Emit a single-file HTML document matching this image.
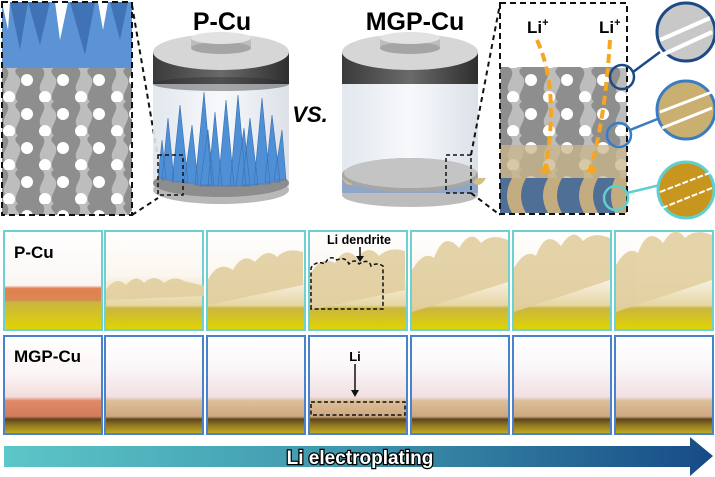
<!DOCTYPE html>
<html><head><meta charset="utf-8"><style>
html,body{margin:0;padding:0;background:#fff;}
svg{display:block;font-family:"Liberation Sans",sans-serif;}
</style></head><body>
<svg width="715" height="477" viewBox="0 0 715 477" xmlns="http://www.w3.org/2000/svg">
<defs>
<linearGradient id="bar" x1="0" x2="1"><stop offset="0" stop-color="#5cc6c8"/><stop offset="0.5" stop-color="#3d95ac"/><stop offset="1" stop-color="#174a86"/></linearGradient>
<linearGradient id="cylBody" x1="0" x2="1"><stop offset="0" stop-color="#dfe5ec"/><stop offset="0.5" stop-color="#f6f8fb"/><stop offset="1" stop-color="#d8dee6"/></linearGradient>
<linearGradient id="band" x1="0" x2="1"><stop offset="0" stop-color="#3a3a3a"/><stop offset="0.5" stop-color="#6a6a6a"/><stop offset="1" stop-color="#2e2e2e"/></linearGradient>
<linearGradient id="r1" x1="0" y1="0" x2="0" y2="1"><stop offset="0" stop-color="#fff"/><stop offset="0.45" stop-color="#fbf6ee"/><stop offset="0.75" stop-color="#e6d6a4"/><stop offset="0.78" stop-color="#c9b640"/><stop offset="1" stop-color="#e1d400"/></linearGradient>
<linearGradient id="r1a" x1="0" y1="0" x2="0" y2="1"><stop offset="0" stop-color="#fff"/><stop offset="0.55" stop-color="#fbf6f4"/><stop offset="0.58" stop-color="#e08050"/><stop offset="0.7" stop-color="#d98a50"/><stop offset="0.72" stop-color="#c9b640"/><stop offset="1" stop-color="#e1d400"/></linearGradient>
<linearGradient id="r2" x1="0" y1="0" x2="0" y2="1"><stop offset="0" stop-color="#fff"/><stop offset="0.3" stop-color="#fbf8fa"/><stop offset="0.62" stop-color="#f1dfe3"/><stop offset="0.66" stop-color="#dcc09a"/><stop offset="0.82" stop-color="#cfa780"/><stop offset="0.85" stop-color="#5a4620"/><stop offset="0.9" stop-color="#8a7020"/><stop offset="1" stop-color="#c6b020"/></linearGradient>
<linearGradient id="r2a" x1="0" y1="0" x2="0" y2="1"><stop offset="0" stop-color="#fff"/><stop offset="0.4" stop-color="#fbf4f4"/><stop offset="0.62" stop-color="#f3dcdc"/><stop offset="0.66" stop-color="#e28a66"/><stop offset="0.82" stop-color="#d27a5a"/><stop offset="0.85" stop-color="#5a4620"/><stop offset="0.9" stop-color="#8a7020"/><stop offset="1" stop-color="#c6b020"/></linearGradient>
<pattern id="lat" width="36" height="34" patternUnits="userSpaceOnUse"><rect width="36" height="34" fill="#8e8e8e"/><path d="M6 0 C14 8 -2 17 6 25 C14 34 6 34 6 34 L18 34 C10 26 26 17 18 8 C12 2 18 0 18 0Z" fill="#bdbdbd"/><circle cx="27" cy="12" r="6" fill="#fff"/><circle cx="9" cy="29" r="6" fill="#fff"/></pattern>
</defs>

<!-- left inset -->
<rect x="2" y="2" width="130" height="213" fill="url(#lat)"/>
<rect x="2" y="2" width="130" height="66" fill="#5b93d4"/>
<path d="M10 2 L20 50 L28 2 L40 45 L50 2 Z M70 2 L85 55 L95 2Z M110 2 L120 40 L128 2Z" fill="#3f73b5"/>
<path d="M2 2 L10 2 L8 30Z M55 2 L68 2 L60 40Z M98 2 L108 2 L103 30Z" fill="#fff"/>
<rect x="2" y="2" width="130" height="213" fill="none" stroke="#111" stroke-width="2" stroke-dasharray="6,4"/>
<line x1="132" y1="215" x2="158" y2="198" stroke="#111" stroke-width="2" stroke-dasharray="5,4"/>
<line x1="132" y1="5" x2="158" y2="158" stroke="#111" stroke-width="2" stroke-dasharray="5,4"/>

<!-- P-Cu cylinder -->
<rect x="153" y="55" width="136" height="135" fill="url(#cylBody)" opacity="0.9"/>
<ellipse cx="221" cy="190" rx="68" ry="14" fill="#b8b8b8"/>
<ellipse cx="221" cy="183" rx="68" ry="14" fill="#8d8d8d"/>
<g fill="#4f8fd6" stroke="#3a6fb0" stroke-width="0.6">
<path d="M162 180 L168 118 L174 180Z M172 182 L180 105 L188 182Z M184 183 L192 125 L198 183Z M195 185 L204 92 L212 185Z M208 186 L215 112 L222 186Z M218 186 L226 100 L234 186Z M230 186 L238 95 L246 186Z M242 185 L250 118 L258 185Z M254 184 L262 98 L270 184Z M265 182 L272 115 L280 182Z M158 178 L162 140 L166 178Z M200 186 L208 130 L214 186Z M236 186 L244 128 L250 186Z M274 180 L282 130 L286 180Z"/>
</g>
<rect x="153" y="52" width="136" height="32" fill="url(#band)"/>
<ellipse cx="221" cy="84" rx="68" ry="7" fill="#2b2b2b" opacity="0.4"/>
<ellipse cx="221" cy="52" rx="68" ry="18" fill="#d6d6d6"/>
<rect x="191" y="38" width="60" height="10" fill="#bdbdbd"/>
<ellipse cx="221" cy="48" rx="30" ry="6" fill="#a5a5a5"/>
<ellipse cx="221" cy="38" rx="30" ry="6" fill="#e2e2e2"/>
<rect x="158" y="155" width="25" height="40" fill="none" stroke="#111" stroke-width="1.5" stroke-dasharray="4,3"/>
<text x="222" y="30" font-size="25" font-weight="bold" text-anchor="middle">P-Cu</text>

<text x="310" y="122" font-size="22" font-weight="bold" font-style="italic" text-anchor="middle">VS.</text>

<!-- MGP-Cu cylinder -->
<rect x="342" y="55" width="136" height="140" fill="url(#cylBody)" opacity="0.9"/>
<ellipse cx="410" cy="195" rx="68" ry="12" fill="#bcbcbc"/>
<rect x="342" y="175" width="136" height="18" fill="#8fa6c8"/>
<path d="M342 178 q8 14 16 0 q8 14 16 0 q8 14 16 0 q8 14 16 0 q8 14 16 0 q8 14 16 0 q8 14 16 0 q8 14 16 0 q8 14 16 0" fill="#d4bf86"/>
<ellipse cx="410" cy="175" rx="68" ry="17" fill="#a6a6a6"/>
<ellipse cx="410" cy="173" rx="66" ry="15" fill="#c4c4c4"/>
<rect x="342" y="52" width="136" height="32" fill="url(#band)"/>
<ellipse cx="410" cy="52" rx="68" ry="18" fill="#d6d6d6"/>
<rect x="380" y="38" width="60" height="10" fill="#bdbdbd"/>
<ellipse cx="410" cy="48" rx="30" ry="6" fill="#a5a5a5"/>
<ellipse cx="410" cy="38" rx="30" ry="6" fill="#e2e2e2"/>
<rect x="446" y="155" width="25" height="38" fill="none" stroke="#111" stroke-width="1.5" stroke-dasharray="4,3"/>
<line x1="471" y1="193" x2="500" y2="215" stroke="#111" stroke-width="2" stroke-dasharray="5,4"/>
<line x1="471" y1="155" x2="500" y2="4" stroke="#111" stroke-width="2" stroke-dasharray="5,4"/>
<text x="415" y="30" font-size="25" font-weight="bold" text-anchor="middle">MGP-Cu</text>

<!-- right inset -->
<rect x="500" y="67" width="127" height="146" fill="url(#lat)"/>
<rect x="500" y="145" width="127" height="35" fill="#c9b78a" opacity="0.75"/>
<rect x="500" y="178" width="127" height="35" fill="#4f6f96"/>
<path d="M512 178 q-10 18 0 35 h14 q-10 -17 0 -35Z M548 178 q-10 18 0 35 h14 q-10 -17 0 -35Z M584 178 q-10 18 0 35 h14 q-10 -17 0 -35Z M615 178 q-8 18 0 35 h12 v-35Z" fill="#c3ad80"/>
<path d="M537 40 Q560 90 545 170" fill="none" stroke="#f5a623" stroke-width="4" stroke-dasharray="9,5"/>
<path d="M610 40 Q605 120 590 170" fill="none" stroke="#f5a623" stroke-width="4" stroke-dasharray="9,5"/>
<path d="M538 172 l10 -8 l3 10z M584 172 l10 -8 l3 10z" fill="#f5a623"/>
<text x="527" y="33" font-size="17" font-weight="bold">Li<tspan font-size="11" dy="-7">+</tspan></text>
<text x="599" y="33" font-size="17" font-weight="bold">Li<tspan font-size="11" dy="-7">+</tspan></text>
<rect x="500" y="3" width="127" height="211" fill="none" stroke="#111" stroke-width="2" stroke-dasharray="6,4"/>

<!-- zoom circles -->
<g stroke-width="2.5" fill="none">
<circle cx="622" cy="77" r="12" stroke="#1d4a86"/>
<line x1="633" y1="72" x2="660" y2="52" stroke="#1d4a86"/>
<circle cx="619" cy="135" r="12" stroke="#3a7cc4"/>
<line x1="630" y1="130" x2="660" y2="118" stroke="#3a7cc4"/>
<circle cx="616" cy="198" r="12" stroke="#5fcfd0"/>
<line x1="627" y1="193" x2="660" y2="185" stroke="#5fcfd0"/>
</g>
<circle cx="686" cy="32" r="29" fill="#c8c8c8" stroke="#1d4a86" stroke-width="3"/>
<path d="M660 40 L710 18 M662 55 L712 32" stroke="#fff" stroke-width="4"/>
<circle cx="686" cy="110" r="29" fill="#c9b070" stroke="#3a7cc4" stroke-width="3"/>
<path d="M660 112 L712 92 M662 128 L712 108" stroke="#fff" stroke-width="3"/>
<circle cx="686" cy="190" r="28" fill="#c8951e" stroke="#5fcfd0" stroke-width="3"/>
<path d="M660 192 L712 172 M662 208 L712 188" stroke="#fff" stroke-width="2" stroke-dasharray="6,2"/>

<!-- row 1 panels -->
<g stroke="#6fd0d4" stroke-width="2">
<rect x="4" y="231" width="98" height="99" fill="url(#r1a)"/>
<rect x="105" y="231" width="98" height="99" fill="url(#r1)"/>
<rect x="207" y="231" width="98" height="99" fill="url(#r1)"/>
<rect x="309" y="231" width="98" height="99" fill="url(#r1)"/>
<rect x="411" y="231" width="98" height="99" fill="url(#r1)"/>
<rect x="513" y="231" width="98" height="99" fill="url(#r1)"/>
<rect x="615" y="231" width="98" height="99" fill="url(#r1)"/>
</g>
<g fill="#e2cfa0" opacity="0.9">
<path d="M106 300 L106 290 q10 -15 20 -5 q10 -12 18 -2 q10 -10 20 0 q10 -8 20 -2 l20 5 v10Z"/>
<path d="M208 305 L208 280 q10 -20 25 -10 q10 -18 22 -8 q12 -15 22 -5 q10 -10 26 -5 v33Z"/>
<path d="M310 310 L310 275 q10 -20 25 -12 q10 -18 22 -5 q12 -15 22 -2 q10 -10 26 -5 v39Z"/>
<path d="M412 312 L412 270 q12 -20 22 -12 q10 -28 25 -10 q12 -20 22 -5 q10 -10 27 -3 v42Z"/>
<path d="M514 312 L514 268 q12 -20 22 -12 q10 -28 25 -10 q12 -20 22 -5 q10 -10 27 -3 v42Z"/>
<path d="M616 312 L616 265 q12 -20 22 -12 q10 -28 25 -10 q12 -20 22 -5 q10 -10 27 -3 v45Z"/>
</g>
<text x="14" y="258" font-size="17" font-weight="bold">P-Cu</text>
<text x="359" y="244" font-size="12.5" font-weight="bold" text-anchor="middle">Li dendrite</text>
<line x1="360" y1="247" x2="360" y2="258" stroke="#111" stroke-width="1.5"/>
<path d="M356 256 l4 6 l4 -6z" fill="#111"/>
<path d="M311 309 V268 q5 -8 14 -4 q4 -10 12 -4 q8 -4 12 4 q6 -6 10 0 q10 -6 12 2 q6 -4 12 0 V309Z" fill="none" stroke="#111" stroke-width="1.5" stroke-dasharray="4,2.5"/>

<!-- row 2 panels -->
<g stroke="#4a82cc" stroke-width="2">
<rect x="4" y="336" width="98" height="98" fill="url(#r2a)"/>
<rect x="105" y="336" width="98" height="98" fill="url(#r2)"/>
<rect x="207" y="336" width="98" height="98" fill="url(#r2)"/>
<rect x="309" y="336" width="98" height="98" fill="url(#r2)"/>
<rect x="411" y="336" width="98" height="98" fill="url(#r2)"/>
<rect x="513" y="336" width="98" height="98" fill="url(#r2)"/>
<rect x="615" y="336" width="98" height="98" fill="url(#r2)"/>
</g>
<text x="14" y="362" font-size="17" font-weight="bold">MGP-Cu</text>
<text x="355" y="361" font-size="13" font-weight="bold" text-anchor="middle">Li</text>
<line x1="355" y1="364" x2="355" y2="392" stroke="#111" stroke-width="1.5"/>
<path d="M351 390 l4 7 l4 -7z" fill="#111"/>
<rect x="311" y="402" width="94" height="13" fill="none" stroke="#111" stroke-width="1.5" stroke-dasharray="4,2.5"/>

<!-- arrow bar -->
<path d="M4 446 H690 V437 L713 456 L690 476 V467 H4Z" fill="url(#bar)"/>
<text x="360" y="464" font-size="19" font-weight="bold" text-anchor="middle" fill="#fff" stroke="#000" stroke-width="2.5" paint-order="stroke">Li electroplating</text>
</svg>
</body></html>
